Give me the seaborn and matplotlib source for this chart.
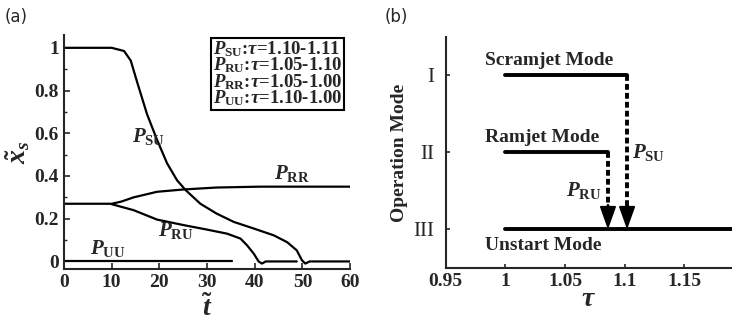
import numpy as np
import pandas as pd
import matplotlib
matplotlib.use('Agg')
import matplotlib.pyplot as plt
import seaborn as sns

sns.set_style('ticks')
plt.rcParams['font.family'] = ['Liberation Serif', 'DejaVu Serif']
plt.rcParams['font.weight'] = 'bold'
plt.rcParams['mathtext.fontset'] = 'custom'
plt.rcParams['mathtext.rm'] = 'Liberation Serif:bold'
plt.rcParams['mathtext.it'] = 'Liberation Serif:italic:bold'
plt.rcParams['mathtext.bf'] = 'Liberation Serif:bold'

# (a) curves
su_t = [0, 10, 12.6, 14, 15.4, 17.4, 19.5, 21.6, 23.7, 25.5, 28.6, 32, 35.6, 39.8, 44, 46.8, 48.8, 49.9, 50.6, 51.5, 60]
su_x = [1, 1, 0.985, 0.94, 0.835, 0.69, 0.57, 0.46, 0.38, 0.334, 0.27, 0.224, 0.185, 0.154, 0.122, 0.09, 0.052, 0.005, -0.01, 0, 0]
rr_t = [0, 10, 12, 14.6, 19.5, 25.1, 32, 41, 60]
rr_x = [0.27, 0.27, 0.28, 0.30, 0.326, 0.337, 0.346, 0.35, 0.35]
ru_t = [10, 14.6, 19.5, 25.1, 30, 34.2, 37, 38.4, 39.8, 40.8, 41.5, 42.3, 48.8]
ru_x = [0.268, 0.24, 0.196, 0.17, 0.149, 0.13, 0.107, 0.075, 0.036, 0.0, -0.01, 0, 0]
uu_t = [0, 35.2]
uu_x = [0, 0]

# (b) operation modes
modes = ['I', 'II', 'III']
mode_level = [3, 2, 1]
scram_tau = [1.0, 1.102]
ramjet_tau = [1.0, 1.086]
unstart_tau = [1.0, 1.19]
su_jump_tau = 1.102
ru_jump_tau = 1.086

fig = plt.figure(figsize=(7.32, 3.24), dpi=100)
ax1 = fig.add_axes([0.0874, 0.170, 0.391, 0.722])
ax2 = fig.add_axes([0.609, 0.173, 0.391, 0.713])

lw = 1.6
for t, x in [(su_t, su_x), (rr_t, rr_x), (ru_t, ru_x), (uu_t, uu_x)]:
    sns.lineplot(x=t, y=x, ax=ax1, color='black', lw=lw, sort=False, estimator=None)

ax1.set_xlim(0, 60)
ax1.set_ylim(-0.035, 1.06)
ax1.set_xticks([0, 10, 20, 30, 40, 50, 60])
ax1.set_yticks([0, 0.2, 0.4, 0.6, 0.8, 1])
ax1.set_yticklabels(['0', '0.2', '0.4', '0.6', '0.8', '1'])
ax1.set_yticks(np.arange(0.1, 1.0, 0.2), minor=True)
ax1.tick_params(direction='in', labelsize=14, width=1.2, length=4)
ax1.tick_params(which='minor', direction='in', width=1.0, length=2.5)
for s in ['left', 'bottom']:
    ax1.spines[s].set_linewidth(1.5)
sns.despine(ax=ax1)
ax1.set_xlabel(r'$\tilde{t}$', fontsize=20, labelpad=3)
ax1.set_ylabel(r'$\tilde{x}_s$', fontsize=20, labelpad=2)

fs = 15
ax1.text(14.3, 0.585, r'$P_{\mathrm{SU}}$', fontsize=fs, va='center')
ax1.text(44, 0.41, r'$P_{\mathrm{RR}}$', fontsize=fs, va='center')
ax1.text(19.8, 0.145, r'$P_{\mathrm{RU}}$', fontsize=fs, va='center')
ax1.text(5.5, 0.012, r'$P_{\mathrm{UU}}$', fontsize=fs, va='bottom')
box_txt = (r'$P_{\mathrm{SU}}$:$\tau$=1.10-1.11' + '\n' +
           r'$P_{\mathrm{RU}}$:$\tau$=1.05-1.10' + '\n' +
           r'$P_{\mathrm{RR}}$:$\tau$=1.05-1.00' + '\n' +
           r'$P_{\mathrm{UU}}$:$\tau$=1.10-1.00')
ax1.text(31.2, 1.04, box_txt, fontsize=13.5, va='top', ha='left', linespacing=0.78,
         bbox=dict(boxstyle='square,pad=0.08', fc='white', ec='black', lw=1.5))

# (b)
blw = 2.8
sns.lineplot(x=scram_tau, y=[mode_level[0]] * 2, ax=ax2, color='black', lw=blw, estimator=None)
sns.lineplot(x=ramjet_tau, y=[mode_level[1]] * 2, ax=ax2, color='black', lw=blw, estimator=None)
sns.lineplot(x=unstart_tau, y=[mode_level[2]] * 2, ax=ax2, color='black', lw=blw, estimator=None)
for tau, top in [(su_jump_tau, mode_level[0]), (ru_jump_tau, mode_level[1])]:
    sns.lineplot(x=[tau, tau], y=[top, mode_level[2] + 0.25], ax=ax2, color='black', lw=blw,
                 linestyle=(0, (1.5, 0.8)), estimator=None, sort=False)
    ax2.annotate('', xy=(tau, mode_level[2]), xytext=(tau, mode_level[2] + 0.32),
                 arrowprops=dict(arrowstyle='-|>,head_length=1.4,head_width=0.5',
                                 color='black', lw=1.5, shrinkA=0, shrinkB=0))

ax2.set_xlim(0.95, 1.19)
ax2.set_ylim(0.5, 3.5)
ax2.set_xticks([0.95, 1, 1.05, 1.1, 1.15])
ax2.set_xticklabels(['0.95', '1', '1.05', '1.1', '1.15'])
ax2.set_yticks(mode_level)
ax2.set_yticklabels(modes, fontweight='normal')
ax2.tick_params(direction='in', labelsize=14, width=1.2, length=3)
ax2.tick_params(axis='y', labelsize=15, pad=8)
for s in ['left', 'bottom']:
    ax2.spines[s].set_linewidth(1.5)
sns.despine(ax=ax2)
ax2.set_xlabel(r'$\tau$', fontsize=20, labelpad=-2)
ax2.set_ylabel('Operation Mode', fontsize=14, fontweight='bold', labelpad=4)

ax2.text(0.983, 3.2, 'Scramjet Mode', fontsize=14, va='center')
ax2.text(0.983, 2.19, 'Ramjet Mode', fontsize=14, va='center')
ax2.text(0.983, 0.79, 'Unstart Mode', fontsize=14, va='center')
ax2.text(1.106, 2.0, r'$P_{\mathrm{SU}}$', fontsize=fs, va='center')
ax2.text(1.081, 1.5, r'$P_{\mathrm{RU}}$', fontsize=fs, va='center', ha='right')

fig.text(0.007, 0.975, '(a)', fontsize=12, family='DejaVu Sans', fontweight='normal', va='top')
fig.text(0.525, 0.975, '(b)', fontsize=12, family='DejaVu Sans', fontweight='normal', va='top')

fig.savefig('out.png', dpi=100)
